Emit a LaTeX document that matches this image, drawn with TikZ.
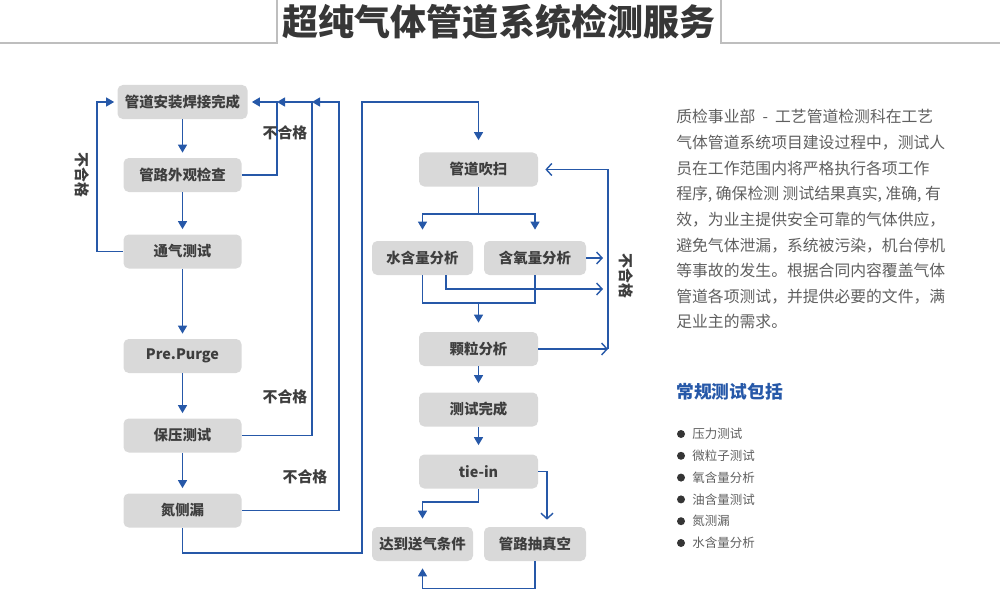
\documentclass[tikz,border=0pt]{standalone}
\usepackage{fontspec}
\setmainfont{Noto Sans CJK SC}
\usetikzlibrary{arrows.meta}
\definecolor{pipe}{RGB}{38,88,168}
\definecolor{slate}{RGB}{62,62,62}
\definecolor{fog}{RGB}{217,217,217}
\definecolor{ash}{RGB}{95,95,95}
\definecolor{rule}{RGB}{190,190,190}
\definecolor{heading}{RGB}{55,55,55}
\tikzset{
  box/.style={fill=fog,rounded corners=3pt,minimum width=#1,minimum height=6.8mm,
    inner sep=0pt,font=\fontsize{8.2}{10}\selectfont\bfseries,text=slate},
  box/.default=23.6mm,
  wire/.style={line width=0.8pt,draw=pipe},
  flow/.style={wire,-{Triangle[length=1.6mm,width=1.8mm]}},
  open flow/.style={wire,-{Straight Barb[length=1.1mm,width=2.4mm]}},
  tag/.style={font=\fontsize{8.5}{10}\selectfont\bfseries,text=slate},
  para/.style={font=\fontsize{9}{12}\selectfont,text=ash,anchor=base west,inner sep=0pt},
  item/.style={font=\fontsize{7.1}{9}\selectfont,text=ash,anchor=west,inner sep=0pt},
}
\begin{document}
\begin{tikzpicture}[x=0.2mm,y=-0.2mm]
  \useasboundingbox (0,0) rectangle (1000,610);
  % title bar
  \draw[rule,line width=0.6pt] (0,43) -- (277,43) -- (277,0) (721,0) -- (721,43) -- (1000,43);
  \node[font=\fontsize{20.5}{24}\selectfont\bfseries,text=heading] (title) at (499,22) {超纯气体管道系统检测服务};

  % left column
  \node[box=26mm] (weld) at (182.5,102) {管道安装焊接完成};
  \node[box] (look) at (182.5,175) {管路外观检查};
  \node[box] (vent) at (182.5,251.5) {通气测试};
  \node[box] (prep) at (182.5,356) {Pre.Purge};
  \node[box] (hold) at (182.5,435.5) {保压测试};
  \node[box] (leak) at (182.5,510.5) {氮侧漏};
  \foreach \a/\b in {weld/look,look/vent,vent/prep,prep/hold,hold/leak}
    \draw[flow,shorten >=1mm] (\a) -- (\b);

  % back to welding
  \coordinate (j1) at (277,102);
  \coordinate (j2) at (312,102);
  \coordinate (j3) at (339,102);
  \draw[flow,shorten >=0.6mm] (vent.west) -- ++(-26,0) |- (weld.west);
  \draw[flow,shorten >=0.8mm] (look.east) -| (j1) -- (weld.east);
  \draw[flow] (hold.east) -| (j2) -- (j1);
  \draw[flow] (leak.east) -| (j3) -- (j2);
  \node[tag,rotate=-90] (fail1) at (82,175) {不合格};
  \node[tag] (fail2) at (285,133) {不合格};
  \node[tag] (fail3) at (285,397) {不合格};
  \node[tag] (fail4) at (305,477) {不合格};

  % right column
  \node[box=23.8mm] (blow) at (478.5,169.5) {管道吹扫};
  \node[box=20.2mm] (water) at (422.5,258) {水含量分析};
  \node[box=20.4mm] (oxy) at (535,258) {含氧量分析};
  \node[box=23.8mm] (part) at (478.5,349) {颗粒分析};
  \node[box=23.8mm] (done) at (478.5,409.5) {测试完成};
  \node[box=23.8mm] (tiein) at (478.5,471.5) {tie-in};
  \node[box=20.2mm] (ready) at (422.5,544) {达到送气条件};
  \node[box=20.4mm] (vac) at (535,544) {管路抽真空};

  \coordinate (k1) at (362,553);
  \coordinate (k2) at (362,102);
  \draw[flow,shorten >=2.4mm] (leak.south) |- (k1) -- (k2) -| (blow.north);

  \coordinate (s1) at (478.5,214);
  \draw[wire] (blow.south) -- (s1);
  \draw[flow,shorten >=2.2mm] (s1) -| (water.north);
  \draw[flow,shorten >=2.2mm] (s1) -| (oxy.north);
  \coordinate (m1) at (478.5,303);
  \draw[wire] (water.south) |- (m1) -| (oxy.south);
  \draw[flow,shorten >=1.8mm] (m1) -- (part.north);

  % retest loop
  \coordinate (b1) at (608,349);
  \coordinate (r1) at (603,258);
  \coordinate (r2) at (603,289);
  \draw[open flow] (part.east) -- (b1);
  \draw[open flow,shorten >=1.4mm] (b1) |- (blow.east);
  \draw[open flow] (oxy.east) -- (r1);
  \draw[open flow] ([xshift=4.7mm]water.south) |- (r2);
  \node[tag,rotate=-90] (fail5) at (626,276) {不合格};

  \draw[flow,shorten >=1.8mm] (part) -- (done);
  \draw[flow,shorten >=1.8mm] (done) -- (tiein);
  \coordinate (t1) at (478.5,502);
  \draw[flow,shorten >=1.6mm] (tiein.south) -- (t1) -| (ready.north);
  \draw[open flow,shorten >=1.4mm] (tiein.east) -| ([xshift=2.4mm]vac.north);
  \draw[flow,shorten >=1.4mm] (vac.south) -- ++(0,27) -| (ready.south);

  % description
  \foreach \t [count=\i] in {{质检事业部\hspace{0.45em}-\hspace{0.45em}工艺管道检测科在工艺},{气体管道系统项目建设过程中，测试人},
      {员在工作范围内将严格执行各项工作},{程序, 确保检测 测试结果真实, 准确, 有},
      {效，为业主提供安全可靠的气体供应，},{避免气体泄漏，系统被污染，机台停机},
      {等事故的发生。根据合同内容覆盖气体},{管道各项测试，并提供必要的文件，满},
      {足业主的需求。}}
    \node[para] (line\i) at (676,{123+25.6*(\i-1)}) {\t};

  \node[font=\fontsize{10.1}{12}\selectfont\bfseries,text=pipe,anchor=west,inner sep=0pt] (head) at (676,392) {常规测试包括};
  \foreach \t [count=\i] in {压力测试,微粒子测试,氧含量分析,油含量测试,氮测漏,水含量分析}{
    \fill[slate!85!black] (681,{434+21.8*(\i-1)}) circle (0.8mm);
    \node[item] (item\i) at (692,{434+21.8*(\i-1)}) {\t};
  }
\end{tikzpicture}
\end{document}
